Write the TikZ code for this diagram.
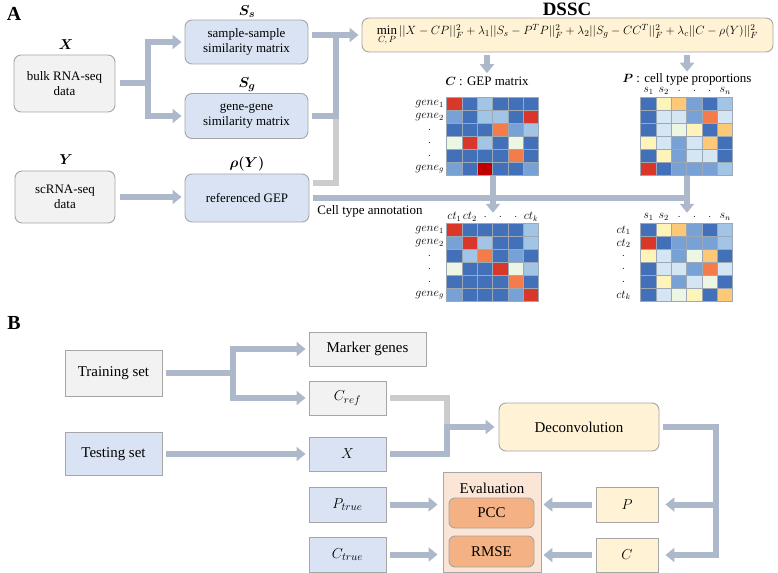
\documentclass[tikz,border=0pt]{standalone}
\usepackage{fontspec}
\setmainfont{Liberation Serif}
\usepackage{amsmath}
\usepackage{bm}
\usetikzlibrary{arrows.meta}
\usetikzlibrary{calc}

\definecolor{boxline}{HTML}{A6A6A6}
\definecolor{boxgray}{HTML}{F2F2F2}
\definecolor{boxblue}{HTML}{DAE3F3}
\definecolor{boxcream}{HTML}{FFF2D5}
\definecolor{evalfill}{HTML}{FBE5D6}
\definecolor{evalbox}{HTML}{F4B183}
\definecolor{flowc}{HTML}{ADB9CA}
\definecolor{grayc}{HTML}{CCCCCC}
\definecolor{hmgrid}{HTML}{9DA8B6}
% heat map shades, dark blue to dark red
\definecolor{hm1}{HTML}{4371B9}
\definecolor{hm2}{HTML}{78A2D5}
\definecolor{hm3}{HTML}{A2C5E5}
\definecolor{hm4}{HTML}{D4E6F3}
\definecolor{hm5}{HTML}{EDF5E3}
\definecolor{hm6}{HTML}{FEF4B9}
\definecolor{hm7}{HTML}{FDC878}
\definecolor{hm8}{HTML}{F47B4A}
\definecolor{hm9}{HTML}{D9372A}
\definecolor{hm0}{HTML}{C00000}

% 6x6 heat map inside the frame node #1
\newcommand{\heatmap}[2]{%
\foreach \rowvals [count=\r] in {#2} {
  \foreach \v [count=\c] in \rowvals {
    \filldraw[fill=hm\v, draw=hmgrid, line width=0.7bp] ($(#1.north west)+({(\c-1)*92/6},{(\r-1)*13})$) rectangle ++({92/6},13);
  }
}}
\newcommand{\rowlabels}[2]{%
\foreach \t [count=\r] in {#2}
  \node[hmlab, text width=30bp, align=center, anchor=east] (#1-r\r) at ($(#1.north west)+(-1,{(\r-0.5)*13})$) {$\t$};}
\newcommand{\collabels}[2]{%
\foreach \t [count=\c] in {#2}
  \node[hmlab] (#1-c\c) at ($(#1.north west)+({(\c-0.5)*92/6},-7)$) {$\t$};}

\begin{document}
\begin{tikzpicture}[x=1bp,y=-1bp,
  abox/.style={draw=boxline, line width=0.9bp, inner sep=2bp, align=center, font=\fontsize{13}{15}\selectfont},
  graybox/.style={abox, fill=boxgray},
  bluebox/.style={abox, fill=boxblue},
  creambox/.style={abox, fill=boxcream},
  bfont/.style={font=\fontsize{15}{17}\selectfont},
  vlab/.style={font=\fontsize{15}{17}\selectfont},
  panel/.style={font=\fontsize{20}{22}\selectfont\bfseries},
  flow/.style={draw=flowc, line width=6bp, -{Triangle[width=14bp,length=9bp]}},
  flowline/.style={draw=flowc, line width=6bp},
  grayline/.style={draw=grayc, line width=6bp},
  hmframe/.style={minimum width=92bp, minimum height=78bp, inner sep=0pt},
  hmlab/.style={font=\fontsize{11.5}{13}\selectfont, inner sep=1bp}]
\useasboundingbox (0,0) rectangle (778,573);

%%% panel A
\node[panel] (lblA) at (14,14) {A};
\node[graybox, rounded corners=7bp, minimum width=101bp, minimum height=57bp] (bulk) at (64.5,83.5) {bulk RNA-seq\\data};
\node[vlab] (labX) at (66,45) {$\bm{X}$};
\node[bluebox, rounded corners=7bp, minimum width=123bp, minimum height=44bp] (Ss) at (246.5,42) {sample-sample\\similarity matrix};
\node[vlab] (labSs) at (247,12) {$\bm{S_s}$};
\node[bluebox, rounded corners=7bp, minimum width=123bp, minimum height=45bp] (Sg) at (246.5,116) {gene-gene\\similarity matrix};
\node[vlab] (labSg) at (247,85) {$\bm{S_g}$};
\node[graybox, rounded corners=7bp, minimum width=100bp, minimum height=52bp] (scrna) at (65,197) {scRNA-seq\\data};
\node[vlab] (labY) at (66,160) {$\bm{Y}$};
\node[bluebox, rounded corners=7bp, minimum width=124bp, minimum height=48bp] (refgep) at (247,198) {referenced GEP};
\node[vlab] (labrho) at (247,164) {$\bm{\rho(Y)}$};

\node[font=\fontsize{19}{21}\selectfont\bfseries] (dssc) at (567,9) {DSSC};
\node[creambox, rounded corners=7bp, minimum width=411bp, minimum height=34bp, font=\fontsize{13}{15}\selectfont] (formula) at (567.5,35)
  {$\min\limits_{C,\,P}||X-CP||_F^2+\lambda_1||S_s-P^TP||_F^2+\lambda_2||S_g-CC^T||_F^2+\lambda_c||C-\rho(Y)||_F^2$};
\node[abox, draw=none] (Clab) at (487,81) {$\bm{C}$ : GEP matrix};
\node[abox, draw=none] (Plab) at (687,79) {$\bm{P}$ : cell type proportions};

% heat maps
\node[hmframe] (Cmat) at (493,137) {};
\heatmap{Cmat}{{9,1,3,1,1,1},{2,1,3,3,1,9},{1,1,1,8,2,3},{5,9,3,1,5,1},{1,1,1,1,8,1},{2,1,0,1,1,2}}
\rowlabels{Cmat}{gene_1,gene_2,.,.,.,gene_g}
\node[hmframe] (Pmat) at (687,137) {};
\heatmap{Pmat}{{1,6,7,2,1,3},{1,4,4,2,8,4},{1,4,5,6,1,7},{6,4,2,4,7,1},{1,6,2,4,4,1},{9,1,2,2,2,3}}
\collabels{Pmat}{s_1,s_2,.,.,.,s_n}
\node[hmframe] (Crefmat) at (493,263) {};
\heatmap{Crefmat}{{9,1,1,1,1,3},{2,9,3,1,1,3},{1,3,8,1,2,1},{5,1,1,9,5,3},{1,1,1,1,8,1},{2,1,1,1,2,9}}
\rowlabels{Crefmat}{gene_1,gene_2,.,.,.,gene_g}
\collabels{Crefmat}{ct_1,ct_2,.,.,.,ct_k}
\node[hmframe] (Prefmat) at (687,263) {};
\heatmap{Prefmat}{{1,6,7,2,1,3},{9,1,2,2,2,3},{6,4,2,5,7,1},{1,4,4,2,8,4},{1,6,2,4,5,1},{1,4,5,6,1,7}}
\rowlabels{Prefmat}{ct_1,ct_2,.,.,.,ct_k}
\collabels{Prefmat}{s_1,s_2,.,.,.,s_n}

\node[abox, draw=none, anchor=west] (annot) at (315,211) {Cell type annotation};

% connectors A
\coordinate (splitA) at (148,0);
\coordinate (joinA) at (336,0);
\draw[flow] ($(bulk.east)+(5,0)$) -| (splitA |- Ss.west) -- ($(Ss.west)+(-3,0)$);
\draw[flow] ($(bulk.east)+(5,0)$) -| (splitA |- Sg.west) -- ($(Sg.west)+(-3,0)$);
\draw[flow] ($(scrna.east)+(5,0)$) -- ($(scrna.east -| refgep.west)+(-3,0)$);
\draw[grayline] ($(refgep.east)+(4,-15)$) -| (joinA |- Sg.east);
\draw[flowline] ($(Sg.east)+(4,0)$) -| (joinA |- formula.west);
\draw[flow] ($(Ss.east |- formula.west)+(4,0)$) -- ($(formula.west)+(-3,0)$);
\draw[flow] ($(formula.south -| Clab)+(0,3)$) -- ($(Clab.north)+(0,-1)$);
\draw[flow] ($(formula.south -| Plab)+(0,3)$) -- ($(Plab.north)+(0,1)$);
\draw[flowline] ($(refgep.east)+(4,0)$) -- ($(Pmat.south |- refgep.east)+(3,0)$);
\draw[flow] (Cmat.south) -- ($(Crefmat.north)+(0,-11)$);
\draw[flow] (Pmat.south) -- ($(Prefmat.north)+(0,-11)$);

%%% panel B
\node[panel] (lblB) at (14,323) {B};
\node[graybox, bfont, minimum width=97bp, minimum height=46bp] (train) at (113.5,373) {Training set};
\node[bluebox, bfont, minimum width=97bp, minimum height=43bp] (test) at (113.5,454) {Testing set};
\node[graybox, bfont, minimum width=117bp, minimum height=34bp] (marker) at (367.5,349) {Marker genes};
\node[graybox, bfont, minimum width=77bp, minimum height=34bp] (cref) at (347.5,398) {$C_{ref}$};
\node[bluebox, bfont, minimum width=77bp, minimum height=34bp] (xbox) at (347.5,454) {$X$};
\node[bluebox, bfont, minimum width=77bp, minimum height=35bp] (ptrue) at (347.5,504.5) {$P_{true}$};
\node[bluebox, bfont, minimum width=77bp, minimum height=35bp] (ctrue) at (347.5,554.5) {$C_{true}$};
\node[creambox, bfont, rounded corners=7bp, minimum width=160bp, minimum height=48bp] (deconv) at (579,427) {Deconvolution};
\node[creambox, bfont, minimum width=62bp, minimum height=35bp] (pbox) at (627,504.5) {$P$};
\node[creambox, bfont, minimum width=62bp, minimum height=34bp] (cbox) at (627,555) {$C$};
\node[abox, fill=evalfill, minimum width=98bp, minimum height=100bp] (eval) at (492,522) {};
\node[bfont] (evaltitle) at (492,488) {Evaluation};
\node[abox, bfont, fill=evalbox, rounded corners=6bp, minimum width=85bp, minimum height=30bp] (pcc) at (491.5,513) {PCC};
\node[abox, bfont, fill=evalbox, rounded corners=6bp, minimum width=85bp, minimum height=31bp] (rmse) at (491.5,551.5) {RMSE};

% connectors B
\coordinate (splitB) at (233,0);
\coordinate (joinB) at (447,0);
\coordinate (splitC) at (716,0);
\draw[flow] ($(train.east)+(4,0)$) -| (splitB |- marker.west) -- ($(marker.west)+(-3,0)$);
\draw[flow] ($(train.east)+(4,0)$) -| (splitB |- cref.west) -- ($(cref.west)+(-3,0)$);
\draw[flow] ($(test.east)+(4,0)$) -- ($(test.east -| xbox.west)+(-3,0)$);
\draw[grayline] ($(cref.east)+(4,0)$) -| (joinB |- deconv.west);
\draw[flow] ($(xbox.east)+(4,0)$) -| (joinB |- deconv.west) -- ($(deconv.west)+(-4,0)$);
\draw[flow] ($(deconv.east)+(4,0)$) -| (splitC |- cbox.east) -- ($(cbox.east)+(7,0)$);
\draw[flow] (splitC |- pbox.east) -- ($(pbox.east)+(7,0)$);
\draw[flow] ($(pbox.west)+(-4,0)$) -- ($(pbox.west -| eval.east)+(2,0)$);
\draw[flow] ($(cbox.west)+(-4,0)$) -- ($(cbox.west -| eval.east)+(2,0)$);
\draw[flow] ($(ptrue.east)+(4,0)$) -- ($(ptrue.east -| eval.west)+(-5,0)$);
\draw[flow] ($(ctrue.east)+(4,0)$) -- ($(ctrue.east -| eval.west)+(-5,0)$);

\end{tikzpicture}
\end{document}
